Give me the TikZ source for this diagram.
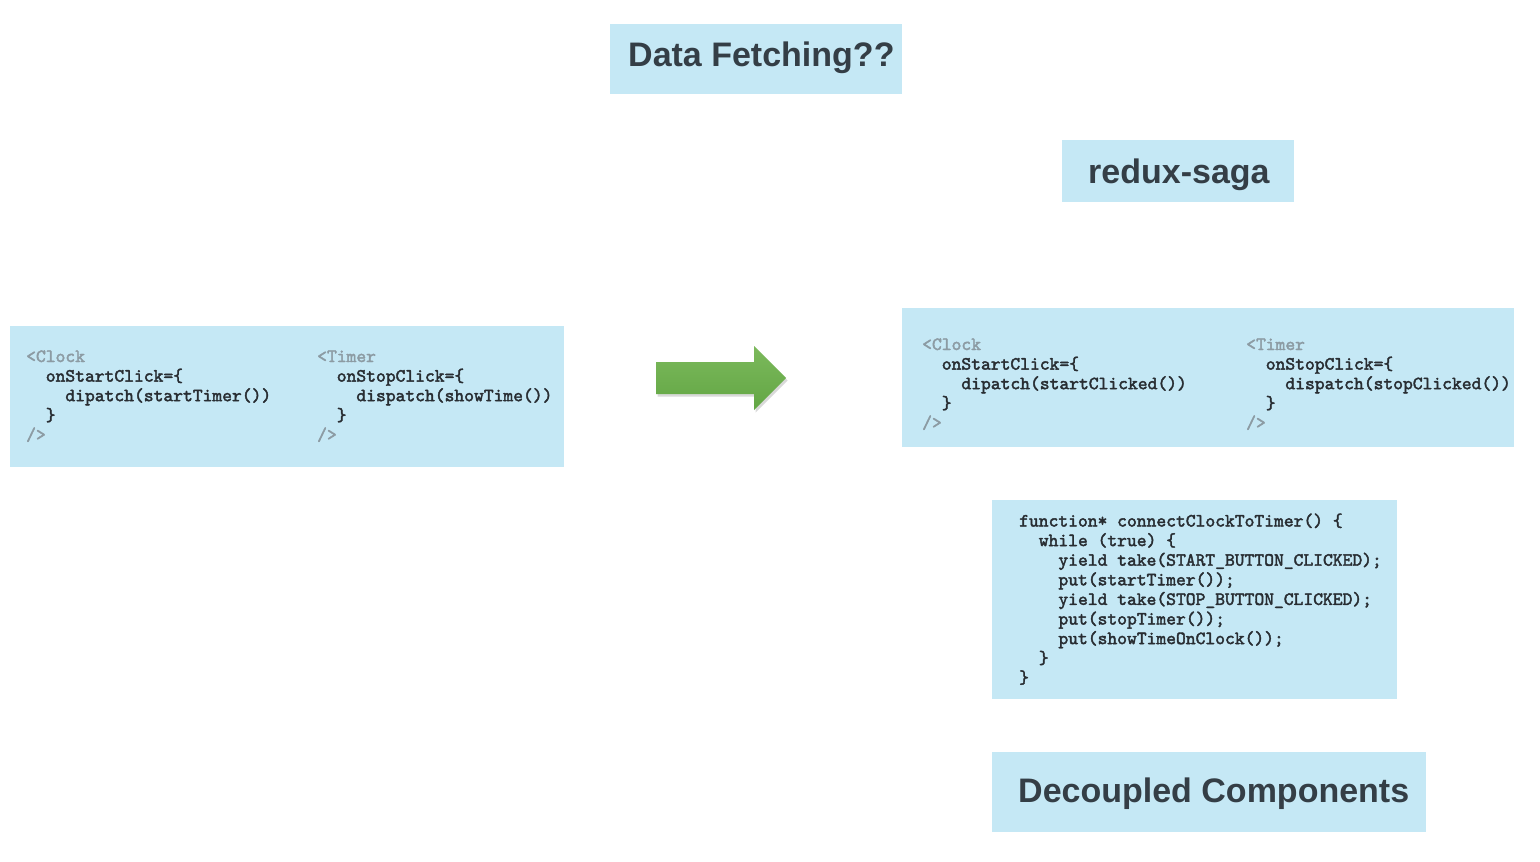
\documentclass[tikz,border=0pt]{standalone}
\usepackage{fontspec}
\setmainfont{Liberation Sans}
\setmonofont{lmmono10-regular}[Extension=.otf, AutoFakeBold=2.2]
\usetikzlibrary{shadows}
\definecolor{boxblue}{RGB}{197,232,245}
\definecolor{titlegray}{RGB}{52,62,70}
\definecolor{codedark}{RGB}{40,45,50}
\definecolor{codegray}{RGB}{140,155,163}
\definecolor{arrowtop}{RGB}{124,185,92}
\definecolor{arrowbot}{RGB}{98,166,68}
\newcommand\codeind{\hphantom{xx}}
\newcommand\cg[1]{\textcolor{codegray}{#1}}
\tikzset{
  bluebox/.style={fill=boxblue},
  titletext/.style={anchor=base west, inner sep=0pt, text=titlegray,
    font=\fontsize{34}{40}\selectfont\bfseries},
  codetext/.style={anchor=base west, inner sep=0pt, text=codedark,
    font=\fontsize{18.67}{19.6}\selectfont\ttfamily\bfseries}
}
\begin{document}
\begin{tikzpicture}[x=1pt,y=-1pt]
\useasboundingbox[fill=white] (0,0) rectangle (1540,862);
% boxes
\fill[bluebox] (610,24) rectangle (902,94);
\fill[bluebox] (1062,140) rectangle (1294,202);
\fill[bluebox] (10,326) rectangle (564,467);
\fill[bluebox] (902,308) rectangle (1514,447);
\fill[bluebox] (992,500) rectangle (1397,699);
\fill[bluebox] (992,752) rectangle (1426,832);
% titles
\node[titletext] (t1) at (628,66) {Data Fetching??};
\node[titletext] (t2) at (1088,183) {redux-saga};
\node[titletext] (t3) at (1018,802) {Decoupled Components};
% left code
\node[codetext] (lclock) at (26,362) {\begin{tabular}[t]{@{}l@{}}
\cg{<Clock}\\
\codeind onStartClick=\{\\
\codeind\codeind dipatch(startTimer())\\
\codeind \}\\
\cg{/>}
\end{tabular}};
\node[codetext] (ltimer) at (317,362) {\begin{tabular}[t]{@{}l@{}}
\cg{<Timer}\\
\codeind onStopClick=\{\\
\codeind\codeind dispatch(showTime())\\
\codeind \}\\
\cg{/>}
\end{tabular}};
% right code
\node[codetext] (rclock) at (922,350) {\begin{tabular}[t]{@{}l@{}}
\cg{<Clock}\\
\codeind onStartClick=\{\\
\codeind\codeind dipatch(startClicked())\\
\codeind \}\\
\cg{/>}
\end{tabular}};
\node[codetext] (rtimer) at (1246,350) {\begin{tabular}[t]{@{}l@{}}
\cg{<Timer}\\
\codeind onStopClick=\{\\
\codeind\codeind dispatch(stopClicked())\\
\codeind \}\\
\cg{/>}
\end{tabular}};
\node[codetext] (saga) at (1019,526.5) {\begin{tabular}[t]{@{}l@{}}
function* connectClockToTimer() \{\\
\codeind while (true) \{\\
\codeind\codeind yield take(START\_BUTTON\_CLICKED);\\
\codeind\codeind put(startTimer());\\
\codeind\codeind yield take(STOP\_BUTTON\_CLICKED);\\
\codeind\codeind put(stopTimer());\\
\codeind\codeind put(showTimeOnClock());\\
\codeind \}\\
\}
\end{tabular}};
% arrow
\shade[top color=arrowtop, bottom color=arrowbot,
  drop shadow={shadow xshift=1.5pt, shadow yshift=-2.5pt, opacity=0.15, fill=black}]
  (656,362) -- (754,362) -- (754,346) -- (786,378) -- (754,410) -- (754,394) -- (656,394) -- cycle;
\end{tikzpicture}
\end{document}
